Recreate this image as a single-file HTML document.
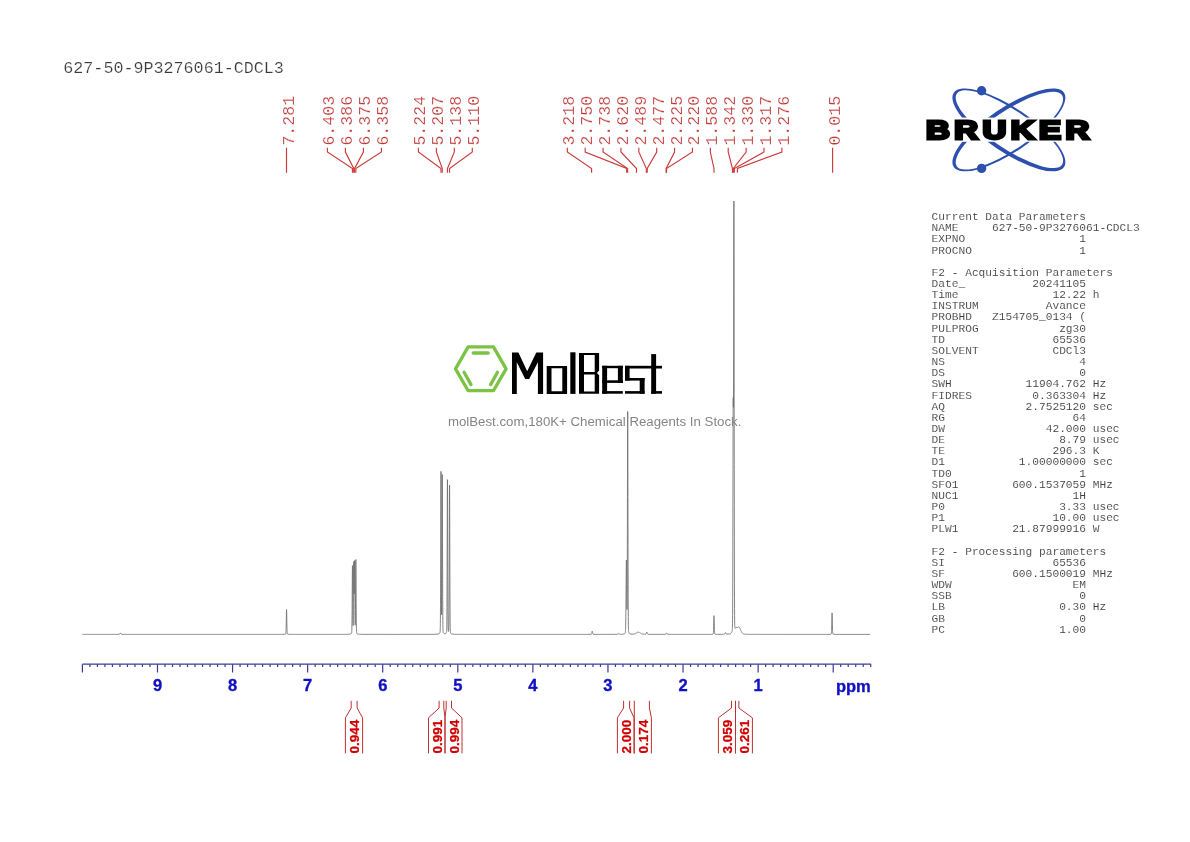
<!DOCTYPE html>
<html><head><meta charset="utf-8"><style>
html,body{margin:0;padding:0;background:#fff;width:1190px;height:842px;overflow:hidden}
svg{display:block;will-change:transform}
</style></head><body>
<svg width="1190" height="842" viewBox="0 0 1190 842">
<rect width="1190" height="842" fill="#fff"/>
<text x="63.3" y="72.8" font-family="Liberation Mono" font-size="16.72" fill="#3a3a3a" stroke="#fff" stroke-width="0.2">627-50-9P3276061-CDCL3</text>
<g font-family="Liberation Mono" font-size="16.6" fill="#c03838" stroke="#fff" stroke-width="0.2"><text transform="translate(293.50,145.60) rotate(-90)" x="0" y="0">7.281</text><text transform="translate(334.40,145.60) rotate(-90)" x="0" y="0">6.403</text><text transform="translate(352.40,145.60) rotate(-90)" x="0" y="0">6.386</text><text transform="translate(370.40,145.60) rotate(-90)" x="0" y="0">6.375</text><text transform="translate(388.40,145.60) rotate(-90)" x="0" y="0">6.358</text><text transform="translate(425.40,145.60) rotate(-90)" x="0" y="0">5.224</text><text transform="translate(443.37,145.60) rotate(-90)" x="0" y="0">5.207</text><text transform="translate(461.34,145.60) rotate(-90)" x="0" y="0">5.138</text><text transform="translate(479.31,145.60) rotate(-90)" x="0" y="0">5.110</text><text transform="translate(574.30,145.60) rotate(-90)" x="0" y="0">3.218</text><text transform="translate(592.18,145.60) rotate(-90)" x="0" y="0">2.750</text><text transform="translate(610.06,145.60) rotate(-90)" x="0" y="0">2.738</text><text transform="translate(627.94,145.60) rotate(-90)" x="0" y="0">2.620</text><text transform="translate(645.82,145.60) rotate(-90)" x="0" y="0">2.489</text><text transform="translate(663.70,145.60) rotate(-90)" x="0" y="0">2.477</text><text transform="translate(681.58,145.60) rotate(-90)" x="0" y="0">2.225</text><text transform="translate(699.46,145.60) rotate(-90)" x="0" y="0">2.220</text><text transform="translate(717.34,145.60) rotate(-90)" x="0" y="0">1.588</text><text transform="translate(735.22,145.60) rotate(-90)" x="0" y="0">1.342</text><text transform="translate(753.10,145.60) rotate(-90)" x="0" y="0">1.330</text><text transform="translate(770.98,145.60) rotate(-90)" x="0" y="0">1.317</text><text transform="translate(788.86,145.60) rotate(-90)" x="0" y="0">1.276</text><text transform="translate(839.60,145.60) rotate(-90)" x="0" y="0">0.015</text></g>
<g fill="none" stroke="#cc3a3a" stroke-width="1.15"><path d="M286.50,147.7 L286.50,172.8"/><path d="M327.40,147.7 L327.40,152 L352.46,168.5 L352.46,172.8"/><path d="M345.40,147.7 L345.40,152 L353.74,168.5 L353.74,172.8"/><path d="M363.40,147.7 L363.40,152 L354.57,168.5 L354.57,172.8"/><path d="M381.40,147.7 L381.40,152 L355.84,168.5 L355.84,172.8"/><path d="M418.40,147.7 L418.40,152 L440.98,168.5 L440.98,172.8"/><path d="M436.37,147.7 L436.37,152 L442.26,168.5 L442.26,172.8"/><path d="M454.34,147.7 L454.34,152 L447.44,168.5 L447.44,172.8"/><path d="M472.31,147.7 L472.31,152 L449.54,168.5 L449.54,172.8"/><path d="M567.30,147.7 L567.30,152 L591.59,168.5 L591.59,172.8"/><path d="M585.18,147.7 L585.18,152 L626.73,168.5 L626.73,172.8"/><path d="M603.06,147.7 L603.06,152 L627.63,168.5 L627.63,172.8"/><path d="M620.94,147.7 L620.94,152 L636.49,168.5 L636.49,172.8"/><path d="M638.82,147.7 L638.82,152 L646.33,168.5 L646.33,172.8"/><path d="M656.70,147.7 L656.70,152 L647.23,168.5 L647.23,172.8"/><path d="M674.58,147.7 L674.58,152 L666.15,168.5 L666.15,172.8"/><path d="M692.46,147.7 L692.46,152 L666.52,168.5 L666.52,172.8"/><path d="M710.34,147.7 L710.34,152 L713.97,168.5 L713.97,172.8"/><path d="M728.22,147.7 L728.22,152 L732.44,168.5 L732.44,172.8"/><path d="M746.10,147.7 L746.10,152 L733.34,168.5 L733.34,172.8"/><path d="M763.98,147.7 L763.98,152 L734.32,168.5 L734.32,172.8"/><path d="M781.86,147.7 L781.86,152 L737.40,168.5 L737.40,172.8"/><path d="M832.60,147.7 L832.60,172.8"/></g>
<path d="M82.40,634.40 83.40,634.40 84.40,634.40 85.40,634.40 86.40,634.40 87.40,634.40 88.40,634.40 89.40,634.40 90.40,634.40 91.40,634.40 92.40,634.40 93.40,634.40 94.40,634.40 95.40,634.40 96.40,634.40 97.40,634.40 98.40,634.40 99.40,634.40 100.40,634.40 101.40,634.40 102.40,634.40 103.40,634.40 104.40,634.40 105.40,634.40 106.40,634.40 107.40,634.40 108.40,634.40 109.40,634.40 110.40,634.40 111.40,634.40 112.40,634.40 113.40,634.40 114.40,634.40 115.40,634.40 116.40,634.40 116.45,634.40 116.50,634.40 116.55,634.40 116.60,634.40 116.65,634.40 116.70,634.40 116.75,634.40 116.80,634.40 116.85,634.40 116.90,634.40 116.95,634.39 117.00,634.39 117.05,634.39 117.10,634.39 117.15,634.39 117.20,634.39 117.25,634.39 117.30,634.39 117.35,634.39 117.40,634.39 117.45,634.39 117.50,634.39 117.55,634.39 117.60,634.39 117.65,634.39 117.70,634.39 117.75,634.39 117.80,634.39 117.85,634.39 117.90,634.39 117.95,634.39 118.00,634.39 118.05,634.39 118.10,634.39 118.15,634.39 118.20,634.39 118.25,634.39 118.30,634.39 118.35,634.39 118.40,634.39 118.45,634.38 118.50,634.38 118.55,634.38 118.60,634.38 118.65,634.38 118.70,634.38 118.75,634.37 118.80,634.37 118.85,634.37 118.90,634.36 118.95,634.35 119.00,634.35 119.05,634.34 119.10,634.32 119.15,634.31 119.20,634.29 119.25,634.27 119.30,634.24 119.35,634.21 119.40,634.18 119.45,634.14 119.50,634.09 119.55,634.04 119.60,633.98 119.65,633.92 119.70,633.85 119.75,633.78 119.80,633.70 119.85,633.62 119.90,633.54 119.95,633.46 120.00,633.38 120.05,633.30 120.10,633.23 120.15,633.16 120.20,633.11 120.25,633.06 120.30,633.03 120.35,633.01 120.40,633.00 120.45,633.01 120.50,633.03 120.55,633.06 120.60,633.11 120.65,633.16 120.70,633.23 120.75,633.30 120.80,633.38 120.85,633.46 120.90,633.54 120.95,633.62 121.00,633.70 121.05,633.78 121.10,633.85 121.15,633.92 121.20,633.98 121.25,634.04 121.30,634.09 121.35,634.14 121.40,634.18 121.45,634.21 121.50,634.24 121.55,634.27 121.60,634.29 121.65,634.31 121.70,634.32 121.75,634.34 121.80,634.35 121.85,634.35 121.90,634.36 121.95,634.37 122.00,634.37 122.05,634.37 122.10,634.38 122.15,634.38 122.20,634.38 122.25,634.38 122.30,634.38 122.35,634.38 122.40,634.39 122.45,634.39 122.50,634.39 122.55,634.39 122.60,634.39 122.65,634.39 122.70,634.39 122.75,634.39 122.80,634.39 122.85,634.39 122.90,634.39 122.95,634.39 123.00,634.39 123.05,634.39 123.10,634.39 123.15,634.39 123.20,634.39 123.25,634.39 123.30,634.39 123.35,634.39 123.40,634.39 123.45,634.39 123.50,634.39 123.55,634.39 123.60,634.39 123.65,634.39 123.70,634.39 123.75,634.39 123.80,634.39 123.85,634.39 123.90,634.40 123.95,634.40 124.00,634.40 124.05,634.40 124.10,634.40 124.15,634.40 124.20,634.40 124.25,634.40 124.30,634.40 124.35,634.40 124.40,634.40 124.45,634.40 124.50,634.40 124.55,634.40 124.60,634.40 124.65,634.40 124.70,634.40 124.75,634.40 124.80,634.40 124.85,634.40 124.90,634.40 124.95,634.40 125.00,634.40 125.05,634.40 125.10,634.40 125.15,634.40 125.20,634.40 125.25,634.40 125.30,634.40 125.35,634.40 125.40,634.40 125.45,634.40 126.45,634.40 127.45,634.40 128.45,634.40 129.45,634.40 130.45,634.40 131.45,634.40 132.45,634.40 133.45,634.40 134.45,634.40 135.45,634.40 136.45,634.40 137.45,634.40 138.45,634.40 139.45,634.40 140.45,634.40 141.45,634.40 142.45,634.40 143.45,634.40 144.45,634.40 145.45,634.40 146.45,634.40 147.45,634.40 148.45,634.40 149.45,634.40 150.45,634.40 151.45,634.40 152.45,634.40 153.45,634.40 154.45,634.40 155.45,634.40 156.45,634.40 157.45,634.40 158.45,634.40 159.45,634.40 160.45,634.40 161.45,634.40 162.45,634.40 163.45,634.40 164.45,634.40 165.45,634.40 166.45,634.40 167.45,634.40 168.45,634.40 169.45,634.40 170.45,634.40 171.45,634.40 172.45,634.40 173.45,634.40 174.45,634.40 175.45,634.40 176.45,634.40 177.45,634.40 178.45,634.40 179.45,634.40 180.45,634.40 181.45,634.40 182.45,634.40 183.45,634.40 184.45,634.40 185.45,634.40 186.45,634.40 187.45,634.40 188.45,634.40 189.45,634.40 190.45,634.40 191.45,634.40 192.45,634.40 193.45,634.40 194.45,634.40 195.45,634.40 196.45,634.40 197.45,634.40 198.45,634.40 199.45,634.40 200.45,634.40 201.45,634.40 202.45,634.40 203.45,634.40 204.45,634.40 205.45,634.40 206.45,634.40 207.45,634.40 208.45,634.40 209.45,634.40 210.45,634.40 211.45,634.40 212.45,634.40 213.45,634.40 214.45,634.40 215.45,634.40 216.45,634.40 217.45,634.40 218.45,634.40 219.45,634.40 220.45,634.40 221.45,634.40 222.45,634.40 223.45,634.40 224.45,634.40 225.45,634.40 226.45,634.40 227.45,634.40 228.45,634.40 229.45,634.40 230.45,634.40 231.45,634.40 232.45,634.40 233.45,634.40 234.45,634.40 235.45,634.40 236.45,634.40 237.45,634.40 238.45,634.40 239.45,634.40 240.45,634.40 241.45,634.40 242.45,634.40 243.45,634.40 244.45,634.40 245.45,634.40 246.45,634.40 247.45,634.40 248.45,634.40 249.45,634.40 250.45,634.40 251.45,634.40 252.45,634.40 253.45,634.40 254.45,634.40 255.45,634.40 256.45,634.40 257.45,634.40 258.45,634.40 259.45,634.40 260.45,634.40 261.45,634.40 262.45,634.40 263.45,634.40 264.45,634.40 265.45,634.40 266.45,634.40 267.45,634.40 268.45,634.40 269.45,634.40 270.45,634.40 271.45,634.40 272.45,634.40 273.45,634.40 274.45,634.40 275.45,634.40 276.45,634.40 277.45,634.40 278.45,634.40 279.45,634.39 280.45,634.39 281.45,634.39 282.45,634.38 282.50,634.38 282.55,634.38 282.60,634.38 282.65,634.38 282.70,634.38 282.75,634.38 282.80,634.38 282.85,634.38 282.90,634.38 282.95,634.38 283.00,634.38 283.05,634.38 283.10,634.38 283.15,634.38 283.20,634.38 283.25,634.37 283.30,634.37 283.35,634.37 283.40,634.37 283.45,634.37 283.50,634.37 283.55,634.37 283.60,634.37 283.65,634.37 283.70,634.37 283.75,634.36 283.80,634.36 283.85,634.36 283.90,634.36 283.95,634.36 284.00,634.36 284.05,634.36 284.10,634.35 284.15,634.35 284.20,634.35 284.25,634.35 284.30,634.35 284.35,634.34 284.40,634.34 284.45,634.34 284.50,634.34 284.55,634.33 284.60,634.33 284.65,634.33 284.70,634.32 284.75,634.32 284.80,634.31 284.85,634.31 284.90,634.30 284.95,634.30 285.00,634.29 285.05,634.28 285.10,634.28 285.15,634.27 285.20,634.26 285.25,634.25 285.30,634.23 285.35,634.22 285.40,634.21 285.45,634.19 285.50,634.17 285.55,634.14 285.60,634.10 285.65,634.05 285.70,633.97 285.75,633.85 285.80,633.67 285.85,633.38 285.90,632.95 285.95,632.32 286.00,631.43 286.05,630.21 286.10,628.61 286.15,626.61 286.20,624.23 286.25,621.53 286.30,618.66 286.35,615.81 286.40,613.22 286.45,611.16 286.50,609.86 286.55,609.51 286.60,610.16 286.65,611.71 286.70,613.96 286.75,616.65 286.80,619.53 286.85,622.36 286.90,624.98 286.95,627.25 287.00,629.13 287.05,630.61 287.10,631.73 287.15,632.54 287.20,633.10 287.25,633.48 287.30,633.73 287.35,633.89 287.40,634.00 287.45,634.07 287.50,634.11 287.55,634.15 287.60,634.17 287.65,634.19 287.70,634.21 287.75,634.22 287.80,634.24 287.85,634.25 287.90,634.26 287.95,634.27 288.00,634.28 288.05,634.29 288.10,634.29 288.15,634.30 288.20,634.30 288.25,634.31 288.30,634.31 288.35,634.32 288.40,634.32 288.45,634.33 288.50,634.33 288.55,634.33 288.60,634.34 288.65,634.34 288.70,634.34 288.75,634.34 288.80,634.35 288.85,634.35 288.90,634.35 288.95,634.35 289.00,634.36 289.05,634.36 289.10,634.36 289.15,634.36 289.20,634.36 289.25,634.36 289.30,634.36 289.35,634.37 289.40,634.37 289.45,634.37 289.50,634.37 289.55,634.37 289.60,634.37 289.65,634.37 289.70,634.37 289.75,634.37 289.80,634.37 289.85,634.37 289.90,634.38 289.95,634.38 290.00,634.38 290.05,634.38 290.10,634.38 290.15,634.38 290.20,634.38 290.25,634.38 290.30,634.38 290.35,634.38 290.40,634.38 290.45,634.38 290.50,634.38 290.55,634.38 290.60,634.38 290.65,634.38 290.70,634.38 290.75,634.38 290.80,634.38 290.85,634.38 290.90,634.38 290.95,634.39 291.00,634.39 291.05,634.39 291.10,634.39 291.15,634.39 291.20,634.39 291.25,634.39 291.30,634.39 291.35,634.39 291.40,634.39 291.45,634.39 291.50,634.39 291.55,634.39 292.55,634.39 293.55,634.39 294.55,634.39 295.55,634.40 296.55,634.40 297.55,634.40 298.55,634.40 299.55,634.40 300.55,634.40 301.55,634.40 302.55,634.40 303.55,634.40 304.55,634.40 305.55,634.40 306.55,634.40 307.55,634.40 308.55,634.40 309.55,634.40 310.55,634.40 311.55,634.40 312.55,634.40 313.55,634.40 314.55,634.40 315.55,634.40 316.55,634.40 317.55,634.40 318.55,634.40 319.55,634.40 320.55,634.40 321.55,634.40 322.55,634.40 323.55,634.40 324.55,634.40 325.55,634.40 326.55,634.40 327.55,634.39 328.55,634.39 329.55,634.39 330.55,634.39 331.55,634.39 332.55,634.39 333.55,634.39 334.55,634.39 335.55,634.39 336.55,634.39 337.55,634.39 338.55,634.39 339.55,634.38 340.55,634.38 341.55,634.38 342.55,634.38 343.55,634.37 344.55,634.36 345.55,634.36 346.55,634.34 347.55,634.32 347.60,634.32 347.65,634.32 347.70,634.32 347.75,634.32 347.80,634.31 347.85,634.31 347.90,634.31 347.95,634.31 348.00,634.31 348.05,634.31 348.10,634.30 348.15,634.30 348.20,634.30 348.25,634.30 348.30,634.30 348.35,634.30 348.40,634.29 348.45,634.29 348.50,634.29 348.55,634.29 348.60,634.28 348.65,634.28 348.70,634.28 348.75,634.28 348.80,634.27 348.85,634.27 348.90,634.27 348.95,634.27 349.00,634.26 349.05,634.26 349.10,634.26 349.15,634.25 349.20,634.25 349.25,634.24 349.30,634.24 349.35,634.24 349.40,634.23 349.45,634.23 349.50,634.22 349.55,634.22 349.60,634.21 349.65,634.21 349.70,634.20 349.75,634.20 349.80,634.19 349.85,634.19 349.90,634.18 349.95,634.17 350.00,634.16 350.05,634.16 350.10,634.15 350.15,634.14 350.20,634.13 350.25,634.12 350.30,634.11 350.35,634.10 350.40,634.09 350.45,634.08 350.50,634.06 350.55,634.05 350.60,634.04 350.65,634.02 350.70,634.00 350.75,633.99 350.80,633.97 350.85,633.95 350.90,633.92 350.95,633.90 351.00,633.87 351.05,633.84 351.10,633.81 351.15,633.78 351.20,633.74 351.25,633.70 351.30,633.65 351.35,633.59 351.40,633.53 351.45,633.45 351.50,633.35 351.55,633.22 351.60,633.03 351.65,632.74 351.70,632.30 351.75,631.63 351.80,630.62 351.85,629.12 351.90,626.97 351.95,623.99 352.00,620.02 352.05,614.97 352.10,608.83 352.15,601.74 352.20,593.99 352.25,586.06 352.30,578.56 352.35,572.20 352.40,567.69 352.45,565.60 352.50,566.23 352.55,569.47 352.60,574.88 352.65,581.79 352.70,589.48 352.75,597.27 352.80,604.60 352.85,611.06 352.90,616.41 352.95,620.53 353.00,623.41 353.05,625.09 353.10,625.61 353.15,624.96 353.20,623.14 353.25,620.09 353.30,615.76 353.35,610.17 353.40,603.41 353.45,595.73 353.50,587.56 353.55,579.45 353.60,572.10 353.65,566.24 353.70,562.57 353.75,561.50 353.80,563.11 353.85,567.02 353.90,572.52 353.95,578.73 354.00,584.74 354.05,589.71 354.10,592.98 354.15,594.13 354.20,593.00 354.25,589.73 354.30,584.71 354.35,578.62 354.40,572.25 354.45,566.55 354.50,562.40 354.55,560.54 354.60,561.38 354.65,564.90 354.70,570.66 354.75,578.01 354.80,586.20 354.85,594.50 354.90,602.33 354.95,609.26 355.00,615.02 355.05,619.49 355.10,622.65 355.15,624.54 355.20,625.20 355.25,624.65 355.30,622.86 355.35,619.79 355.40,615.38 355.45,609.65 355.50,602.70 355.55,594.78 355.60,586.32 355.65,577.91 355.70,570.29 355.75,564.23 355.80,560.48 355.85,559.55 355.90,561.58 355.95,566.29 356.00,573.07 356.05,581.16 356.10,589.77 356.15,598.23 356.20,606.02 356.25,612.80 356.30,618.39 356.35,622.80 356.40,626.12 356.45,628.53 356.50,630.21 356.55,631.35 356.60,632.10 356.65,632.59 356.70,632.91 356.75,633.13 356.80,633.28 356.85,633.39 356.90,633.47 356.95,633.54 357.00,633.60 357.05,633.65 357.10,633.70 357.15,633.74 357.20,633.78 357.25,633.81 357.30,633.84 357.35,633.87 357.40,633.90 357.45,633.92 357.50,633.94 357.55,633.97 357.60,633.98 357.65,634.00 357.70,634.02 357.75,634.03 357.80,634.05 357.85,634.06 357.90,634.08 357.95,634.09 358.00,634.10 358.05,634.11 358.10,634.12 358.15,634.13 358.20,634.14 358.25,634.15 358.30,634.15 358.35,634.16 358.40,634.17 358.45,634.18 358.50,634.18 358.55,634.19 358.60,634.20 358.65,634.20 358.70,634.21 358.75,634.21 358.80,634.22 358.85,634.22 358.90,634.23 358.95,634.23 359.00,634.24 359.05,634.24 359.10,634.24 359.15,634.25 359.20,634.25 359.25,634.25 359.30,634.26 359.35,634.26 359.40,634.26 359.45,634.27 359.50,634.27 359.55,634.27 359.60,634.28 359.65,634.28 359.70,634.28 359.75,634.28 359.80,634.29 359.85,634.29 359.90,634.29 359.95,634.29 360.00,634.29 360.05,634.30 360.10,634.30 360.15,634.30 360.20,634.30 360.25,634.30 360.30,634.31 360.35,634.31 360.40,634.31 360.45,634.31 360.50,634.31 360.55,634.31 360.60,634.31 360.65,634.32 360.70,634.32 360.75,634.32 360.80,634.32 360.85,634.32 361.85,634.34 362.85,634.36 363.85,634.36 364.85,634.37 365.85,634.38 366.85,634.38 367.85,634.38 368.85,634.38 369.85,634.39 370.85,634.39 371.85,634.39 372.85,634.39 373.85,634.39 374.85,634.39 375.85,634.39 376.85,634.39 377.85,634.39 378.85,634.39 379.85,634.39 380.85,634.39 381.85,634.39 382.85,634.39 383.85,634.39 384.85,634.39 385.85,634.39 386.85,634.39 387.85,634.39 388.85,634.40 389.85,634.40 390.85,634.40 391.85,634.40 392.85,634.40 393.85,634.40 394.85,634.40 395.85,634.40 396.85,634.40 397.85,634.40 398.85,634.39 399.85,634.39 400.85,634.39 401.85,634.39 402.85,634.39 403.85,634.39 404.85,634.39 405.85,634.39 406.85,634.39 407.85,634.39 408.85,634.39 409.85,634.39 410.85,634.39 411.85,634.39 412.85,634.39 413.85,634.39 414.85,634.39 415.85,634.39 416.85,634.39 417.85,634.39 418.85,634.39 419.85,634.39 420.85,634.39 421.85,634.39 422.85,634.38 423.85,634.38 424.85,634.38 425.85,634.38 426.85,634.38 427.85,634.37 428.85,634.37 429.85,634.36 430.85,634.36 431.85,634.35 432.85,634.34 433.85,634.33 434.85,634.30 435.85,634.27 436.85,634.21 436.90,634.21 436.95,634.21 437.00,634.20 437.05,634.20 437.10,634.19 437.15,634.19 437.20,634.18 437.25,634.18 437.30,634.17 437.35,634.17 437.40,634.16 437.45,634.16 437.50,634.15 437.55,634.15 437.60,634.14 437.65,634.13 437.70,634.13 437.75,634.12 437.80,634.11 437.85,634.10 437.90,634.10 437.95,634.09 438.00,634.08 438.05,634.07 438.10,634.06 438.15,634.05 438.20,634.04 438.25,634.03 438.30,634.02 438.35,634.00 438.40,633.99 438.45,633.98 438.50,633.96 438.55,633.95 438.60,633.93 438.65,633.92 438.70,633.90 438.75,633.88 438.80,633.86 438.85,633.84 438.90,633.82 438.95,633.79 439.00,633.76 439.05,633.74 439.10,633.71 439.15,633.68 439.20,633.64 439.25,633.60 439.30,633.56 439.35,633.52 439.40,633.47 439.45,633.42 439.50,633.37 439.55,633.31 439.60,633.24 439.65,633.17 439.70,633.08 439.75,632.99 439.80,632.89 439.85,632.78 439.90,632.64 439.95,632.48 440.00,632.27 440.05,632.00 440.10,631.61 440.15,631.04 440.20,630.17 440.25,628.83 440.30,626.78 440.35,623.72 440.40,619.26 440.45,612.99 440.50,604.51 440.55,593.52 440.60,579.90 440.65,563.85 440.70,545.92 440.75,527.08 440.80,508.66 440.85,492.30 440.90,479.69 440.95,472.39 441.00,471.39 441.05,476.83 441.10,487.91 441.15,503.22 441.20,521.04 441.25,539.70 441.30,557.75 441.35,574.07 441.40,587.94 441.45,598.98 441.50,607.09 441.55,612.34 441.60,614.83 441.65,614.65 441.70,611.81 441.75,606.22 441.80,597.78 441.85,586.47 441.90,572.42 441.95,556.08 442.00,538.23 442.05,520.02 442.10,502.93 442.15,488.61 442.20,478.73 442.25,474.58 442.30,476.76 442.35,484.98 442.40,498.13 442.45,514.65 442.50,532.86 442.55,551.20 442.60,568.45 442.65,583.73 442.70,596.57 442.75,606.84 442.80,614.70 442.85,620.46 442.90,624.53 442.95,627.31 443.00,629.15 443.05,630.36 443.10,631.14 443.15,631.66 443.20,632.01 443.25,632.26 443.30,632.45 443.35,632.60 443.40,632.72 443.45,632.83 443.50,632.92 443.55,633.01 443.60,633.08 443.65,633.15 443.70,633.21 443.75,633.26 443.80,633.31 443.85,633.36 443.90,633.40 443.95,633.43 444.00,633.47 444.05,633.50 444.10,633.53 444.15,633.55 444.20,633.57 444.25,633.59 444.30,633.61 444.35,633.63 444.40,633.64 444.45,633.66 444.50,633.67 444.55,633.68 444.60,633.69 444.65,633.70 444.70,633.70 444.75,633.71 444.80,633.71 444.85,633.71 444.90,633.71 444.95,633.71 445.00,633.71 445.05,633.71 445.10,633.71 445.15,633.70 445.20,633.69 445.25,633.69 445.30,633.68 445.35,633.66 445.40,633.65 445.45,633.64 445.50,633.62 445.55,633.60 445.60,633.58 445.65,633.56 445.70,633.53 445.75,633.50 445.80,633.47 445.85,633.44 445.90,633.40 445.95,633.36 446.00,633.31 446.05,633.26 446.10,633.20 446.15,633.13 446.20,633.06 446.25,632.97 446.30,632.87 446.35,632.76 446.40,632.62 446.45,632.44 446.50,632.21 446.55,631.87 446.60,631.37 446.65,630.60 446.70,629.41 446.75,627.59 446.80,624.85 446.85,620.83 446.90,615.15 446.95,607.41 447.00,597.32 447.05,584.73 447.10,569.78 447.15,552.95 447.20,535.11 447.25,517.49 447.30,501.59 447.35,489.06 447.40,481.40 447.45,479.65 447.50,484.06 447.55,494.01 447.60,508.20 447.65,525.02 447.70,542.88 447.75,560.37 447.80,576.42 447.85,590.33 447.90,601.78 447.95,610.76 448.00,617.50 448.05,622.36 448.10,625.71 448.15,627.95 448.20,629.40 448.25,630.31 448.30,630.88 448.35,631.21 448.40,631.40 448.45,631.50 448.50,631.53 448.55,631.49 448.60,631.37 448.65,631.15 448.70,630.75 448.75,630.10 448.80,629.05 448.85,627.39 448.90,624.85 448.95,621.09 449.00,615.73 449.05,608.41 449.10,598.82 449.15,586.83 449.20,572.54 449.25,556.41 449.30,539.26 449.35,522.25 449.40,506.85 449.45,494.61 449.50,487.02 449.55,485.10 449.60,489.13 449.65,498.54 449.70,512.11 449.75,528.29 449.80,545.54 449.85,562.49 449.90,578.08 449.95,591.64 450.00,602.83 450.05,611.64 450.10,618.28 450.15,623.08 450.20,626.43 450.25,628.69 450.30,630.18 450.35,631.15 450.40,631.77 450.45,632.19 450.50,632.47 450.55,632.68 450.60,632.84 450.65,632.97 450.70,633.07 450.75,633.17 450.80,633.25 450.85,633.32 450.90,633.39 450.95,633.45 451.00,633.50 451.05,633.55 451.10,633.60 451.15,633.64 451.20,633.68 451.25,633.71 451.30,633.75 451.35,633.78 451.40,633.80 451.45,633.83 451.50,633.85 451.55,633.88 451.60,633.90 451.65,633.92 451.70,633.93 451.75,633.95 451.80,633.97 451.85,633.98 451.90,634.00 451.95,634.01 452.00,634.02 452.05,634.04 452.10,634.05 452.15,634.06 452.20,634.07 452.25,634.08 452.30,634.09 452.35,634.10 452.40,634.11 452.45,634.12 452.50,634.12 452.55,634.13 452.60,634.14 452.65,634.14 452.70,634.15 452.75,634.16 452.80,634.16 452.85,634.17 452.90,634.17 452.95,634.18 453.00,634.19 453.05,634.19 453.10,634.19 453.15,634.20 453.20,634.20 453.25,634.21 453.30,634.21 453.35,634.22 453.40,634.22 453.45,634.22 453.50,634.23 453.55,634.23 453.60,634.23 453.65,634.24 453.70,634.24 453.75,634.24 453.80,634.25 453.85,634.25 453.90,634.25 453.95,634.25 454.00,634.26 454.05,634.26 454.10,634.26 454.15,634.26 454.20,634.27 454.25,634.27 454.30,634.27 454.35,634.27 454.40,634.28 454.45,634.28 454.50,634.28 454.55,634.28 455.55,634.31 456.55,634.33 457.55,634.34 458.55,634.35 459.55,634.36 460.55,634.37 461.55,634.37 462.55,634.37 463.55,634.38 464.55,634.38 465.55,634.38 466.55,634.38 467.55,634.39 468.55,634.39 469.55,634.39 470.55,634.39 471.55,634.39 472.55,634.39 473.55,634.39 474.55,634.39 475.55,634.39 476.55,634.39 477.55,634.39 478.55,634.39 479.55,634.39 480.55,634.39 481.55,634.39 482.55,634.39 483.55,634.39 484.55,634.39 485.55,634.40 486.55,634.40 487.55,634.40 488.55,634.40 489.55,634.40 490.55,634.40 491.55,634.40 492.55,634.40 493.55,634.40 494.55,634.40 495.55,634.40 496.55,634.40 497.55,634.40 498.55,634.40 499.55,634.40 500.55,634.40 501.55,634.40 502.55,634.40 503.55,634.40 504.55,634.40 505.55,634.40 506.55,634.40 507.55,634.40 508.55,634.40 509.55,634.40 510.55,634.40 511.55,634.40 512.55,634.40 513.55,634.40 514.55,634.40 515.55,634.40 516.55,634.40 517.55,634.40 518.55,634.40 519.55,634.40 520.55,634.40 521.55,634.40 522.55,634.40 523.55,634.40 524.55,634.40 525.55,634.40 526.55,634.40 527.55,634.40 528.55,634.40 529.55,634.40 530.55,634.40 531.55,634.40 532.55,634.40 533.55,634.40 534.55,634.40 535.55,634.40 536.55,634.40 537.55,634.40 538.55,634.40 539.55,634.40 540.55,634.40 541.55,634.40 542.55,634.40 543.55,634.40 544.55,634.40 545.55,634.40 546.55,634.40 547.55,634.40 548.55,634.40 549.55,634.40 550.55,634.40 551.55,634.40 552.55,634.40 553.55,634.40 554.55,634.40 555.55,634.40 556.55,634.40 557.55,634.40 558.55,634.40 559.55,634.40 560.55,634.40 561.55,634.40 562.55,634.40 563.55,634.40 564.55,634.40 565.55,634.40 566.55,634.40 567.55,634.40 568.55,634.40 569.55,634.40 570.55,634.40 571.55,634.40 572.55,634.40 573.55,634.40 574.55,634.40 575.55,634.40 576.55,634.40 577.55,634.40 578.55,634.40 579.55,634.40 580.55,634.40 581.55,634.40 582.55,634.40 583.55,634.40 584.55,634.40 585.55,634.39 586.55,634.39 587.55,634.39 587.60,634.39 587.65,634.39 587.70,634.39 587.75,634.39 587.80,634.39 587.85,634.39 587.90,634.39 587.95,634.39 588.00,634.39 588.05,634.39 588.10,634.39 588.15,634.39 588.20,634.39 588.25,634.39 588.30,634.39 588.35,634.39 588.40,634.39 588.45,634.39 588.50,634.39 588.55,634.39 588.60,634.39 588.65,634.39 588.70,634.39 588.75,634.39 588.80,634.39 588.85,634.39 588.90,634.39 588.95,634.39 589.00,634.39 589.05,634.39 589.10,634.39 589.15,634.39 589.20,634.39 589.25,634.39 589.30,634.39 589.35,634.39 589.40,634.39 589.45,634.39 589.50,634.39 589.55,634.39 589.60,634.39 589.65,634.39 589.70,634.39 589.75,634.39 589.80,634.39 589.85,634.38 589.90,634.38 589.95,634.38 590.00,634.38 590.05,634.38 590.10,634.38 590.15,634.38 590.20,634.38 590.25,634.38 590.30,634.38 590.35,634.38 590.40,634.38 590.45,634.38 590.50,634.38 590.55,634.37 590.60,634.37 590.65,634.37 590.70,634.37 590.75,634.37 590.80,634.37 590.85,634.36 590.90,634.36 590.95,634.36 591.00,634.35 591.05,634.34 591.10,634.34 591.15,634.32 591.20,634.31 591.25,634.28 591.30,634.25 591.35,634.20 591.40,634.14 591.45,634.06 591.50,633.96 591.55,633.84 591.60,633.69 591.65,633.50 591.70,633.29 591.75,633.06 591.80,632.80 591.85,632.52 591.90,632.25 591.95,631.97 592.00,631.72 592.05,631.51 592.10,631.34 592.15,631.24 592.20,631.20 592.25,631.24 592.30,631.34 592.35,631.51 592.40,631.72 592.45,631.97 592.50,632.25 592.55,632.52 592.60,632.80 592.65,633.06 592.70,633.29 592.75,633.50 592.80,633.69 592.85,633.84 592.90,633.96 592.95,634.06 593.00,634.14 593.05,634.20 593.10,634.25 593.15,634.28 593.20,634.31 593.25,634.32 593.30,634.34 593.35,634.34 593.40,634.35 593.45,634.36 593.50,634.36 593.55,634.36 593.60,634.37 593.65,634.37 593.70,634.37 593.75,634.37 593.80,634.37 593.85,634.37 593.90,634.37 593.95,634.38 594.00,634.38 594.05,634.38 594.10,634.38 594.15,634.38 594.20,634.38 594.25,634.38 594.30,634.38 594.35,634.38 594.40,634.38 594.45,634.38 594.50,634.38 594.55,634.38 594.60,634.38 594.65,634.38 594.70,634.38 594.75,634.39 594.80,634.39 594.85,634.39 594.90,634.39 594.95,634.39 595.00,634.39 595.05,634.39 595.10,634.39 595.15,634.39 595.20,634.39 595.25,634.39 595.30,634.39 595.35,634.39 595.40,634.39 595.45,634.39 595.50,634.39 595.55,634.39 595.60,634.39 595.65,634.39 595.70,634.39 595.75,634.39 595.80,634.39 595.85,634.39 595.90,634.39 595.95,634.39 596.00,634.39 596.05,634.39 596.10,634.39 596.15,634.39 596.20,634.39 596.25,634.39 596.30,634.39 596.35,634.39 596.40,634.39 596.45,634.39 596.50,634.39 596.55,634.39 596.60,634.39 596.65,634.39 596.70,634.39 596.75,634.39 596.80,634.39 596.85,634.39 596.90,634.39 596.95,634.39 597.00,634.39 597.05,634.39 597.10,634.39 597.15,634.39 597.20,634.39 597.25,634.39 598.25,634.39 599.25,634.39 600.25,634.39 601.25,634.39 602.25,634.39 603.25,634.39 604.25,634.39 605.25,634.39 606.25,634.39 607.25,634.39 608.25,634.39 609.25,634.38 610.25,634.38 611.25,634.38 612.25,634.38 613.25,634.38 614.25,634.37 614.30,634.37 614.35,634.37 614.40,634.37 614.45,634.37 614.50,634.37 614.55,634.37 614.60,634.37 614.65,634.37 614.70,634.37 614.75,634.37 614.80,634.37 614.85,634.37 614.90,634.37 614.95,634.37 615.00,634.37 615.05,634.37 615.10,634.37 615.15,634.37 615.20,634.37 615.25,634.37 615.30,634.37 615.35,634.37 615.40,634.37 615.45,634.37 615.50,634.36 615.55,634.36 615.60,634.36 615.65,634.36 615.70,634.36 615.75,634.36 615.80,634.36 615.85,634.36 615.90,634.36 615.95,634.36 616.00,634.36 616.05,634.36 616.10,634.36 616.15,634.36 616.20,634.36 616.25,634.36 616.30,634.36 616.35,634.36 616.40,634.36 616.45,634.36 616.50,634.36 616.55,634.36 616.60,634.35 616.65,634.35 616.70,634.35 616.75,634.35 616.80,634.35 616.85,634.35 616.90,634.35 616.95,634.35 617.00,634.35 617.05,634.35 617.10,634.35 617.15,634.34 617.20,634.34 617.25,634.34 617.30,634.34 617.35,634.33 617.40,634.33 617.45,634.33 617.50,634.32 617.55,634.31 617.60,634.30 617.65,634.29 617.70,634.27 617.75,634.25 617.80,634.23 617.85,634.20 617.90,634.16 617.95,634.12 618.00,634.07 618.05,634.02 618.10,633.96 618.15,633.90 618.20,633.83 618.25,633.76 618.30,633.68 618.35,633.61 618.40,633.54 618.45,633.47 618.50,633.42 618.55,633.37 618.60,633.33 618.65,633.31 618.70,633.30 618.75,633.31 618.80,633.33 618.85,633.36 618.90,633.41 618.95,633.47 619.00,633.53 619.05,633.60 619.10,633.67 619.15,633.74 619.20,633.81 619.25,633.88 619.30,633.94 619.35,634.00 619.40,634.05 619.45,634.10 619.50,634.14 619.55,634.17 619.60,634.20 619.65,634.22 619.70,634.24 619.75,634.26 619.80,634.27 619.85,634.28 619.90,634.29 619.95,634.29 620.00,634.29 620.05,634.30 620.10,634.30 620.15,634.30 620.20,634.30 620.25,634.30 620.30,634.30 620.35,634.30 620.40,634.30 620.45,634.30 620.50,634.30 620.55,634.30 620.60,634.30 620.65,634.30 620.70,634.29 620.75,634.29 620.80,634.29 620.85,634.29 620.90,634.29 620.95,634.29 621.00,634.29 621.05,634.29 621.10,634.28 621.15,634.28 621.20,634.28 621.25,634.28 621.30,634.28 621.35,634.27 621.40,634.27 621.45,634.27 621.50,634.27 621.55,634.27 621.60,634.26 621.65,634.26 621.70,634.26 621.75,634.26 621.80,634.26 621.85,634.25 621.90,634.25 621.95,634.25 622.00,634.24 622.05,634.24 622.10,634.24 622.15,634.24 622.20,634.23 622.25,634.23 622.30,634.23 622.35,634.22 622.40,634.22 622.45,634.21 622.50,634.21 622.55,634.21 622.60,634.20 622.65,634.20 622.70,634.19 622.75,634.19 622.80,634.18 622.85,634.18 622.90,634.17 622.95,634.17 623.00,634.16 623.05,634.16 623.10,634.15 623.15,634.14 623.20,634.14 623.25,634.13 623.30,634.12 623.35,634.12 623.40,634.11 623.45,634.10 623.50,634.09 623.55,634.08 623.60,634.07 623.65,634.06 623.70,634.05 623.75,634.04 623.80,634.03 623.85,634.02 623.90,634.01 623.95,633.99 624.00,633.98 624.05,633.96 624.10,633.95 624.15,633.93 624.20,633.91 624.25,633.90 624.30,633.88 624.35,633.86 624.40,633.83 624.45,633.81 624.50,633.79 624.55,633.76 624.60,633.73 624.65,633.70 624.70,633.67 624.75,633.63 624.80,633.59 624.85,633.55 624.90,633.50 624.95,633.45 625.00,633.39 625.05,633.32 625.10,633.24 625.15,633.14 625.20,633.01 625.25,632.84 625.30,632.62 625.35,632.31 625.40,631.89 625.45,631.31 625.50,630.53 625.55,629.48 625.60,628.09 625.65,626.27 625.70,623.95 625.75,621.06 625.80,617.53 625.85,613.34 625.90,608.49 625.95,603.03 626.00,597.06 626.05,590.76 626.10,584.35 626.15,578.09 626.20,572.30 626.25,567.30 626.30,563.42 626.35,560.92 626.40,560.00 626.45,560.72 626.50,563.02 626.55,566.69 626.60,571.46 626.65,577.00 626.70,582.97 626.75,589.01 626.80,594.82 626.85,600.08 626.90,604.51 626.95,607.78 627.00,609.55 627.05,609.44 627.10,606.99 627.15,601.69 627.20,593.06 627.25,580.70 627.30,564.43 627.35,544.41 627.40,521.29 627.45,496.24 627.50,470.95 627.55,447.57 627.60,428.45 627.65,415.86 627.70,411.50 627.75,416.02 627.80,428.78 627.85,448.10 627.90,471.73 627.95,497.34 628.00,522.83 628.05,546.53 628.10,567.33 628.15,584.66 628.20,598.42 628.25,608.86 628.30,616.47 628.35,621.80 628.40,625.42 628.45,627.82 628.50,629.38 628.55,630.39 628.60,631.05 628.65,631.51 628.70,631.84 628.75,632.08 628.80,632.28 628.85,632.45 628.90,632.59 628.95,632.72 629.00,632.83 629.05,632.93 629.10,633.02 629.15,633.10 629.20,633.18 629.25,633.25 629.30,633.31 629.35,633.37 629.40,633.42 629.45,633.47 629.50,633.51 629.55,633.56 629.60,633.60 629.65,633.63 629.70,633.66 629.75,633.70 629.80,633.72 629.85,633.75 629.90,633.78 629.95,633.80 630.00,633.82 630.05,633.84 630.10,633.86 630.15,633.88 630.20,633.90 630.25,633.92 630.30,633.93 630.35,633.95 630.40,633.96 630.45,633.97 630.50,633.99 630.55,634.00 630.60,634.01 630.65,634.02 630.70,634.03 630.75,634.04 630.80,634.05 630.85,634.06 630.90,634.07 630.95,634.08 631.00,634.08 631.05,634.09 631.10,634.10 631.15,634.10 631.20,634.11 631.25,634.11 631.30,634.12 631.35,634.13 631.40,634.13 631.45,634.14 631.50,634.14 631.55,634.14 631.60,634.15 631.65,634.15 631.70,634.15 631.75,634.16 631.80,634.16 631.85,634.16 631.90,634.17 631.95,634.17 632.00,634.17 632.05,634.17 632.10,634.17 632.15,634.17 632.20,634.18 632.25,634.18 632.30,634.18 632.35,634.18 632.40,634.18 632.45,634.18 632.50,634.18 632.55,634.18 632.60,634.18 632.65,634.17 632.70,634.17 632.75,634.17 633.75,634.08 633.80,634.07 633.85,634.06 633.90,634.05 633.95,634.04 634.00,634.03 634.05,634.02 634.10,634.00 634.15,633.99 634.20,633.98 634.25,633.97 634.30,633.95 634.35,633.94 634.40,633.93 634.45,633.91 634.50,633.90 634.55,633.88 634.60,633.86 634.65,633.85 634.70,633.83 634.75,633.81 634.80,633.79 634.85,633.77 634.90,633.75 634.95,633.73 635.00,633.71 635.05,633.69 635.10,633.67 635.15,633.65 635.20,633.63 635.25,633.60 635.30,633.58 635.35,633.56 635.40,633.53 635.45,633.51 635.50,633.48 635.55,633.45 635.60,633.43 635.65,633.40 635.70,633.37 635.75,633.35 635.80,633.32 635.85,633.29 635.90,633.26 635.95,633.23 636.00,633.21 636.05,633.18 636.10,633.15 636.15,633.12 636.20,633.09 636.25,633.06 636.30,633.03 636.35,633.00 636.40,632.97 636.45,632.94 636.50,632.91 636.55,632.88 636.60,632.85 636.65,632.82 636.70,632.79 636.75,632.76 636.80,632.74 636.85,632.71 636.90,632.68 636.95,632.65 637.00,632.63 637.05,632.60 637.10,632.57 637.15,632.55 637.20,632.52 637.25,632.50 637.30,632.47 637.35,632.45 637.40,632.43 637.45,632.41 637.50,632.39 637.55,632.37 637.60,632.35 637.65,632.33 637.70,632.32 637.75,632.30 637.80,632.29 637.85,632.27 637.90,632.26 637.95,632.25 638.00,632.24 638.05,632.23 638.10,632.22 638.15,632.21 638.20,632.21 638.25,632.20 638.30,632.20 638.35,632.20 638.40,632.20 638.45,632.20 638.50,632.20 638.55,632.21 638.60,632.21 638.65,632.22 638.70,632.22 638.75,632.23 638.80,632.24 638.85,632.25 638.90,632.26 638.95,632.28 639.00,632.29 639.05,632.31 639.10,632.32 639.15,632.34 639.20,632.36 639.25,632.38 639.30,632.40 639.35,632.42 639.40,632.44 639.45,632.46 639.50,632.49 639.55,632.51 639.60,632.54 639.65,632.56 639.70,632.59 639.75,632.61 639.80,632.64 639.85,632.67 639.90,632.70 639.95,632.72 640.00,632.75 640.05,632.78 640.10,632.81 640.15,632.84 640.20,632.87 640.25,632.90 640.30,632.93 640.35,632.96 640.40,632.99 640.45,633.02 640.50,633.05 640.55,633.08 640.60,633.11 640.65,633.14 640.70,633.17 640.75,633.20 640.80,633.23 640.85,633.26 640.90,633.29 640.95,633.32 641.00,633.35 641.05,633.38 641.10,633.41 641.15,633.43 641.20,633.46 641.25,633.49 641.30,633.52 641.35,633.54 641.40,633.57 641.45,633.59 641.50,633.62 641.55,633.64 641.60,633.67 641.65,633.69 641.70,633.71 641.75,633.74 641.80,633.76 641.85,633.78 641.90,633.80 641.95,633.82 642.00,633.84 642.05,633.86 642.10,633.88 642.15,633.90 642.20,633.91 642.25,633.93 642.30,633.95 642.35,633.97 642.40,633.98 642.45,634.00 642.50,634.01 642.55,634.03 642.60,634.04 642.65,634.05 642.70,634.07 642.75,634.08 642.80,634.09 642.85,634.10 642.90,634.11 642.95,634.13 643.00,634.14 643.05,634.15 643.10,634.16 643.15,634.17 643.20,634.17 643.25,634.18 643.30,634.19 643.35,634.20 643.40,634.21 643.45,634.21 643.50,634.22 643.55,634.23 643.60,634.23 643.65,634.24 643.70,634.25 643.75,634.25 643.80,634.26 643.85,634.26 643.90,634.27 643.95,634.27 644.00,634.27 644.05,634.28 644.10,634.28 644.15,634.29 644.20,634.29 644.25,634.29 644.30,634.29 644.35,634.30 644.40,634.30 644.45,634.30 644.50,634.30 644.55,634.31 644.60,634.31 644.65,634.31 644.70,634.31 644.75,634.31 644.80,634.31 644.85,634.32 644.90,634.32 644.95,634.32 645.00,634.32 645.05,634.32 645.10,634.32 645.15,634.32 645.20,634.32 645.25,634.32 645.30,634.31 645.35,634.31 645.40,634.31 645.45,634.30 645.50,634.30 645.55,634.29 645.60,634.27 645.65,634.26 645.70,634.23 645.75,634.20 645.80,634.17 645.85,634.12 645.90,634.07 645.95,634.00 646.00,633.93 646.05,633.83 646.10,633.73 646.15,633.61 646.20,633.48 646.25,633.33 646.30,633.18 646.35,633.02 646.40,632.85 646.45,632.69 646.50,632.53 646.55,632.39 646.60,632.26 646.65,632.15 646.70,632.07 646.75,632.02 646.80,632.00 646.85,632.02 646.90,632.07 646.95,632.15 647.00,632.26 647.05,632.39 647.10,632.54 647.15,632.70 647.20,632.86 647.25,633.02 647.30,633.19 647.35,633.34 647.40,633.49 647.45,633.62 647.50,633.74 647.55,633.85 647.60,633.94 647.65,634.02 647.70,634.08 647.75,634.14 647.80,634.18 647.85,634.22 647.90,634.25 647.95,634.27 648.00,634.29 648.05,634.31 648.10,634.32 648.15,634.33 648.20,634.33 648.25,634.34 648.30,634.34 648.35,634.34 648.40,634.35 648.45,634.35 648.50,634.35 648.55,634.35 648.60,634.35 648.65,634.36 648.70,634.36 648.75,634.36 648.80,634.36 648.85,634.36 648.90,634.36 648.95,634.36 649.00,634.36 649.05,634.36 649.10,634.36 649.15,634.36 649.20,634.37 649.25,634.37 649.30,634.37 649.35,634.37 649.40,634.37 649.45,634.37 649.50,634.37 649.55,634.37 649.60,634.37 649.65,634.37 649.70,634.37 649.75,634.37 649.80,634.37 649.85,634.37 649.90,634.37 649.95,634.37 650.00,634.37 650.05,634.37 650.10,634.37 650.15,634.37 650.20,634.37 650.25,634.37 650.30,634.37 650.35,634.37 650.40,634.37 650.45,634.37 650.50,634.38 650.55,634.38 650.60,634.38 650.65,634.38 650.70,634.38 650.75,634.38 650.80,634.38 650.85,634.38 650.90,634.38 650.95,634.38 651.00,634.38 651.05,634.38 651.10,634.38 651.15,634.38 651.20,634.38 651.25,634.38 651.30,634.38 651.35,634.38 651.40,634.38 651.45,634.38 651.50,634.38 651.55,634.38 651.60,634.38 651.65,634.38 651.70,634.38 651.75,634.38 651.80,634.38 651.85,634.38 652.85,634.38 653.85,634.38 654.85,634.39 655.85,634.39 656.85,634.39 657.85,634.39 658.85,634.39 659.85,634.39 660.85,634.39 661.85,634.39 661.90,634.39 661.95,634.39 662.00,634.39 662.05,634.39 662.10,634.39 662.15,634.39 662.20,634.39 662.25,634.39 662.30,634.39 662.35,634.39 662.40,634.39 662.45,634.39 662.50,634.39 662.55,634.39 662.60,634.39 662.65,634.39 662.70,634.39 662.75,634.39 662.80,634.39 662.85,634.39 662.90,634.39 662.95,634.39 663.00,634.39 663.05,634.39 663.10,634.39 663.15,634.39 663.20,634.39 663.25,634.39 663.30,634.39 663.35,634.39 663.40,634.39 663.45,634.39 663.50,634.39 663.55,634.39 663.60,634.39 663.65,634.39 663.70,634.39 663.75,634.39 663.80,634.39 663.85,634.39 663.90,634.39 663.95,634.39 664.00,634.39 664.05,634.39 664.10,634.39 664.15,634.39 664.20,634.38 664.25,634.38 664.30,634.38 664.35,634.38 664.40,634.38 664.45,634.38 664.50,634.38 664.55,634.38 664.60,634.38 664.65,634.38 664.70,634.38 664.75,634.38 664.80,634.38 664.85,634.38 664.90,634.38 664.95,634.38 665.00,634.38 665.05,634.37 665.10,634.37 665.15,634.37 665.20,634.37 665.25,634.36 665.30,634.36 665.35,634.35 665.40,634.34 665.45,634.33 665.50,634.32 665.55,634.30 665.60,634.28 665.65,634.26 665.70,634.22 665.75,634.18 665.80,634.14 665.85,634.08 665.90,634.02 665.95,633.95 666.00,633.87 666.05,633.79 666.10,633.70 666.15,633.60 666.20,633.50 666.25,633.41 666.30,633.31 666.35,633.23 666.40,633.15 666.45,633.09 666.50,633.04 666.55,633.01 666.60,633.00 666.65,633.01 666.70,633.04 666.75,633.09 666.80,633.15 666.85,633.23 666.90,633.31 666.95,633.41 667.00,633.50 667.05,633.60 667.10,633.70 667.15,633.79 667.20,633.87 667.25,633.95 667.30,634.02 667.35,634.08 667.40,634.14 667.45,634.18 667.50,634.22 667.55,634.26 667.60,634.28 667.65,634.30 667.70,634.32 667.75,634.33 667.80,634.35 667.85,634.35 667.90,634.36 667.95,634.36 668.00,634.37 668.05,634.37 668.10,634.37 668.15,634.38 668.20,634.38 668.25,634.38 668.30,634.38 668.35,634.38 668.40,634.38 668.45,634.38 668.50,634.38 668.55,634.38 668.60,634.38 668.65,634.38 668.70,634.38 668.75,634.38 668.80,634.38 668.85,634.39 668.90,634.39 668.95,634.39 669.00,634.39 669.05,634.39 669.10,634.39 669.15,634.39 669.20,634.39 669.25,634.39 669.30,634.39 669.35,634.39 669.40,634.39 669.45,634.39 669.50,634.39 669.55,634.39 669.60,634.39 669.65,634.39 669.70,634.39 669.75,634.39 669.80,634.39 669.85,634.39 669.90,634.39 669.95,634.39 670.00,634.39 670.05,634.39 670.10,634.39 670.15,634.39 670.20,634.39 670.25,634.39 670.30,634.39 670.35,634.39 670.40,634.39 670.45,634.39 670.50,634.39 670.55,634.39 670.60,634.39 670.65,634.39 670.70,634.39 670.75,634.39 670.80,634.39 670.85,634.39 670.90,634.39 670.95,634.39 671.00,634.39 671.05,634.39 671.10,634.39 671.15,634.39 671.20,634.39 671.25,634.39 671.30,634.39 671.35,634.39 671.40,634.39 671.45,634.39 671.50,634.39 671.55,634.39 671.60,634.39 671.65,634.39 672.65,634.39 673.65,634.39 674.65,634.39 675.65,634.39 676.65,634.39 677.65,634.39 678.65,634.39 679.65,634.39 680.65,634.39 681.65,634.39 682.65,634.39 683.65,634.39 684.65,634.39 685.65,634.39 686.65,634.39 687.65,634.39 688.65,634.39 689.65,634.39 690.65,634.39 691.65,634.39 692.65,634.39 693.65,634.39 694.65,634.39 695.65,634.39 696.65,634.39 697.65,634.39 698.65,634.39 699.65,634.39 700.65,634.39 701.65,634.39 702.65,634.39 703.65,634.39 704.65,634.38 705.65,634.38 706.65,634.38 707.65,634.38 708.65,634.38 709.65,634.37 709.70,634.37 709.75,634.37 709.80,634.37 709.85,634.37 709.90,634.37 709.95,634.37 710.00,634.37 710.05,634.37 710.10,634.37 710.15,634.37 710.20,634.37 710.25,634.37 710.30,634.36 710.35,634.36 710.40,634.36 710.45,634.36 710.50,634.36 710.55,634.36 710.60,634.36 710.65,634.36 710.70,634.36 710.75,634.36 710.80,634.36 710.85,634.36 710.90,634.36 710.95,634.36 711.00,634.36 711.05,634.36 711.10,634.35 711.15,634.35 711.20,634.35 711.25,634.35 711.30,634.35 711.35,634.35 711.40,634.35 711.45,634.35 711.50,634.35 711.55,634.34 711.60,634.34 711.65,634.34 711.70,634.34 711.75,634.34 711.80,634.34 711.85,634.33 711.90,634.33 711.95,634.33 712.00,634.33 712.05,634.32 712.10,634.32 712.15,634.32 712.20,634.31 712.25,634.31 712.30,634.31 712.35,634.30 712.40,634.30 712.45,634.29 712.50,634.29 712.55,634.28 712.60,634.27 712.65,634.27 712.70,634.26 712.75,634.25 712.80,634.24 712.85,634.22 712.90,634.21 712.95,634.19 713.00,634.17 713.05,634.14 713.10,634.09 713.15,634.02 713.20,633.91 713.25,633.75 713.30,633.50 713.35,633.12 713.40,632.57 713.45,631.81 713.50,630.78 713.55,629.45 713.60,627.83 713.65,625.93 713.70,623.83 713.75,621.66 713.80,619.56 713.85,617.74 713.90,616.39 713.95,615.68 714.00,615.71 714.05,616.48 714.10,617.87 714.15,619.72 714.20,621.83 714.25,624.01 714.30,626.09 714.35,627.97 714.40,629.57 714.45,630.87 714.50,631.87 714.55,632.62 714.60,633.15 714.65,633.52 714.70,633.76 714.75,633.92 714.80,634.02 714.85,634.09 714.90,634.13 714.95,634.17 715.00,634.19 715.05,634.21 715.10,634.22 715.15,634.23 715.20,634.24 715.25,634.25 715.30,634.26 715.35,634.27 715.40,634.27 715.45,634.28 715.50,634.28 715.55,634.29 715.60,634.29 715.65,634.30 715.70,634.30 715.75,634.31 715.80,634.31 715.85,634.31 715.90,634.31 715.95,634.32 716.00,634.32 716.05,634.32 716.10,634.32 716.15,634.32 716.20,634.33 716.25,634.33 716.30,634.33 716.35,634.33 716.40,634.33 716.45,634.33 716.50,634.33 716.55,634.33 716.60,634.34 716.65,634.34 716.70,634.34 716.75,634.34 716.80,634.34 716.85,634.34 716.90,634.34 716.95,634.34 717.00,634.34 717.05,634.34 717.10,634.34 717.15,634.34 717.20,634.34 717.25,634.34 717.30,634.34 717.35,634.34 717.40,634.34 717.45,634.34 717.50,634.34 717.55,634.34 717.60,634.34 717.65,634.34 717.70,634.35 717.75,634.35 717.80,634.35 717.85,634.35 717.90,634.35 717.95,634.35 718.00,634.35 718.05,634.35 718.10,634.35 718.15,634.35 718.20,634.35 718.25,634.35 718.30,634.35 718.35,634.35 718.40,634.35 718.45,634.35 718.50,634.35 718.55,634.35 718.60,634.35 718.65,634.35 718.70,634.35 718.75,634.35 718.80,634.35 718.85,634.35 718.90,634.34 718.95,634.34 719.00,634.34 720.00,634.34 721.00,634.33 721.05,634.33 721.10,634.33 721.15,634.33 721.20,634.33 721.25,634.33 721.30,634.33 721.35,634.33 721.40,634.33 721.45,634.33 721.50,634.33 721.55,634.33 721.60,634.33 721.65,634.33 721.70,634.33 721.75,634.32 721.80,634.32 721.85,634.32 721.90,634.32 721.95,634.32 722.00,634.32 722.05,634.32 722.10,634.32 722.15,634.32 722.20,634.32 722.25,634.32 722.30,634.32 722.35,634.32 722.40,634.32 722.45,634.32 722.50,634.31 722.55,634.31 722.60,634.31 722.65,634.31 722.70,634.31 722.75,634.31 722.80,634.31 722.85,634.31 722.90,634.31 722.95,634.31 723.00,634.30 723.05,634.30 723.10,634.30 723.15,634.30 723.20,634.30 723.25,634.30 723.30,634.30 723.35,634.30 723.40,634.29 723.45,634.29 723.50,634.29 723.55,634.29 723.60,634.29 723.65,634.29 723.70,634.28 723.75,634.28 723.80,634.28 723.85,634.27 723.90,634.27 723.95,634.26 724.00,634.25 724.05,634.24 724.10,634.23 724.15,634.22 724.20,634.20 724.25,634.19 724.30,634.16 724.35,634.14 724.40,634.10 724.45,634.07 724.50,634.02 724.55,633.97 724.60,633.92 724.65,633.86 724.70,633.79 724.75,633.71 724.80,633.63 724.85,633.54 724.90,633.45 724.95,633.35 725.00,633.26 725.05,633.16 725.10,633.06 725.15,632.97 725.20,632.88 725.25,632.80 725.30,632.73 725.35,632.68 725.40,632.64 725.45,632.61 725.50,632.60 725.55,632.61 725.60,632.63 725.65,632.67 725.70,632.72 725.75,632.79 725.80,632.86 725.85,632.95 725.90,633.04 725.95,633.13 726.00,633.23 726.05,633.32 726.10,633.41 726.15,633.50 726.20,633.59 726.25,633.67 726.30,633.74 726.35,633.80 726.40,633.86 726.45,633.92 726.50,633.96 726.55,634.00 726.60,634.04 726.65,634.07 726.70,634.09 726.75,634.11 726.80,634.12 726.85,634.14 726.90,634.15 726.95,634.15 727.00,634.16 727.05,634.16 727.10,634.16 727.15,634.17 727.20,634.17 727.25,634.17 727.30,634.17 727.35,634.16 727.40,634.16 727.45,634.16 727.50,634.16 727.55,634.16 727.60,634.15 727.65,634.15 727.70,634.15 727.75,634.14 727.80,634.14 727.85,634.14 727.90,634.13 727.95,634.13 728.00,634.13 728.05,634.12 728.10,634.12 728.15,634.11 728.20,634.11 728.25,634.11 728.30,634.10 728.35,634.10 728.40,634.09 728.45,634.09 728.50,634.08 728.55,634.08 728.60,634.07 728.65,634.06 728.70,634.06 728.75,634.05 728.80,634.05 728.85,634.04 728.90,634.03 728.95,634.03 729.00,634.02 729.05,634.01 729.10,634.00 729.15,634.00 729.20,633.99 729.25,633.98 729.30,633.97 729.35,633.96 729.40,633.95 729.45,633.94 729.50,633.93 729.55,633.92 729.60,633.91 729.65,633.90 729.70,633.89 729.75,633.87 729.80,633.86 729.85,633.85 729.90,633.83 729.95,633.82 730.00,633.80 730.05,633.79 730.10,633.77 730.15,633.75 730.20,633.74 730.25,633.72 730.30,633.70 730.35,633.68 730.40,633.66 730.45,633.63 730.50,633.61 730.55,633.59 730.60,633.56 730.65,633.53 730.70,633.50 730.75,633.47 730.80,633.44 730.85,633.41 730.90,633.37 730.95,633.34 731.00,633.30 731.05,633.25 731.10,633.21 731.15,633.16 731.20,633.11 731.25,633.06 731.30,633.00 731.35,632.94 731.40,632.87 731.45,632.80 731.50,632.72 731.55,632.64 731.60,632.55 731.65,632.46 731.70,632.35 731.75,632.24 731.80,632.12 731.85,631.98 731.90,631.83 731.95,631.67 732.00,631.49 732.05,631.29 732.10,631.06 732.15,630.79 732.20,630.47 732.25,630.07 732.30,629.53 732.35,628.78 732.40,627.67 732.45,626.02 732.50,623.54 732.55,619.84 732.60,614.44 732.65,606.80 732.70,596.36 732.75,582.64 732.80,565.37 732.85,544.64 732.90,520.98 732.95,495.43 733.00,469.51 733.05,445.13 733.10,424.33 733.15,408.92 733.20,400.00 733.25,397.46 733.30,399.73 733.35,404.11 733.40,407.30 733.45,406.10 733.50,397.96 733.55,381.44 733.60,356.53 733.65,324.83 733.70,289.40 733.75,254.51 733.80,225.09 733.85,206.00 733.90,201.00 733.95,211.80 734.00,237.55 734.05,275.32 734.10,321.00 734.15,370.26 734.20,419.16 734.25,464.58 734.30,504.42 734.35,537.58 734.40,563.89 734.45,583.85 734.50,598.37 734.55,608.54 734.60,615.42 734.65,619.95 734.70,622.87 734.75,624.73 734.80,625.92 734.85,626.70 734.90,627.21 734.95,627.57 735.00,627.83 735.05,628.01 735.10,628.14 735.15,628.23 735.20,628.29 735.25,628.31 735.30,628.32 735.35,628.30 735.40,628.27 735.45,628.22 735.50,628.17 735.55,628.10 735.60,628.03 735.65,627.95 735.70,627.87 735.75,627.80 735.80,627.73 735.85,627.66 735.90,627.60 735.95,627.54 736.00,627.50 736.05,627.46 736.10,627.44 736.15,627.42 736.20,627.41 736.25,627.41 736.30,627.42 736.35,627.44 736.40,627.45 736.45,627.48 736.50,627.51 736.55,627.53 736.60,627.56 736.65,627.59 736.70,627.62 736.75,627.64 736.80,627.67 736.85,627.68 736.90,627.70 736.95,627.71 737.00,627.71 737.05,627.71 737.10,627.70 737.15,627.69 737.20,627.67 737.25,627.65 737.30,627.62 737.35,627.59 737.40,627.56 737.45,627.52 737.50,627.48 737.55,627.43 737.60,627.39 737.65,627.34 737.70,627.29 737.75,627.24 737.80,627.20 737.85,627.15 737.90,627.11 737.95,627.06 738.00,627.02 738.05,626.98 738.10,626.95 738.15,626.91 738.20,626.89 738.25,626.86 738.30,626.84 738.35,626.82 738.40,626.81 738.45,626.80 738.50,626.79 738.55,626.80 738.60,626.80 738.65,626.81 738.70,626.82 738.75,626.84 738.80,626.87 738.85,626.89 738.90,626.93 738.95,626.97 739.00,627.01 739.05,627.05 739.10,627.11 739.15,627.16 739.20,627.22 739.25,627.28 739.30,627.35 739.35,627.42 739.40,627.50 739.45,627.58 739.50,627.66 739.55,627.74 739.60,627.83 739.65,627.92 739.70,628.01 739.75,628.11 739.80,628.21 739.85,628.31 739.90,628.41 739.95,628.51 740.00,628.62 740.05,628.72 740.10,628.83 740.15,628.94 740.20,629.05 740.25,629.16 740.30,629.28 740.35,629.39 740.40,629.50 740.45,629.61 740.50,629.73 740.55,629.84 740.60,629.95 740.65,630.06 740.70,630.18 740.75,630.29 740.80,630.40 740.85,630.51 740.90,630.62 740.95,630.72 741.00,630.83 741.05,630.94 741.10,631.04 741.15,631.14 741.20,631.24 741.25,631.34 741.30,631.44 741.35,631.54 741.40,631.63 741.45,631.72 741.50,631.81 741.55,631.90 741.60,631.99 741.65,632.07 741.70,632.16 741.75,632.24 741.80,632.31 741.85,632.39 741.90,632.47 741.95,632.54 742.00,632.61 742.05,632.68 742.10,632.74 742.15,632.81 742.20,632.87 742.25,632.93 742.30,632.99 742.35,633.05 742.40,633.10 742.45,633.16 742.50,633.21 742.55,633.26 742.60,633.30 742.65,633.35 742.70,633.39 742.75,633.43 742.80,633.47 742.85,633.51 742.90,633.55 742.95,633.59 743.00,633.62 743.05,633.65 743.10,633.68 743.15,633.71 743.20,633.74 743.25,633.77 743.30,633.80 743.35,633.82 743.40,633.85 743.45,633.87 743.50,633.89 743.55,633.91 743.60,633.93 743.65,633.95 744.65,634.18 745.65,634.26 746.65,634.29 747.65,634.31 748.65,634.32 749.65,634.33 750.65,634.34 751.65,634.35 752.65,634.36 753.65,634.36 754.65,634.37 755.65,634.37 756.65,634.37 757.65,634.37 758.65,634.38 759.65,634.38 760.65,634.38 761.65,634.38 762.65,634.38 763.65,634.38 764.65,634.39 765.65,634.39 766.65,634.39 767.65,634.39 768.65,634.39 769.65,634.39 770.65,634.39 771.65,634.39 772.65,634.39 773.65,634.39 774.65,634.39 775.65,634.39 776.65,634.39 777.65,634.39 778.65,634.39 779.65,634.39 780.65,634.39 781.65,634.39 782.65,634.39 783.65,634.39 784.65,634.39 785.65,634.39 786.65,634.39 787.65,634.40 788.65,634.40 789.65,634.40 790.65,634.40 791.65,634.40 792.65,634.40 793.65,634.40 794.65,634.40 795.65,634.40 796.65,634.40 797.65,634.40 798.65,634.40 799.65,634.40 800.65,634.40 801.65,634.40 802.65,634.40 803.65,634.40 804.65,634.40 805.65,634.40 806.65,634.40 807.65,634.40 808.65,634.40 809.65,634.40 810.65,634.40 811.65,634.40 812.65,634.40 813.65,634.40 814.65,634.40 815.65,634.40 816.65,634.40 817.65,634.40 818.65,634.40 819.65,634.40 820.65,634.40 821.65,634.40 822.65,634.40 823.65,634.39 824.65,634.39 825.65,634.39 826.65,634.39 827.65,634.39 827.70,634.39 827.75,634.39 827.80,634.39 827.85,634.39 827.90,634.39 827.95,634.38 828.00,634.38 828.05,634.38 828.10,634.38 828.15,634.38 828.20,634.38 828.25,634.38 828.30,634.38 828.35,634.38 828.40,634.38 828.45,634.38 828.50,634.38 828.55,634.38 828.60,634.38 828.65,634.38 828.70,634.38 828.75,634.38 828.80,634.38 828.85,634.38 828.90,634.38 828.95,634.37 829.00,634.37 829.05,634.37 829.10,634.37 829.15,634.37 829.20,634.37 829.25,634.37 829.30,634.37 829.35,634.37 829.40,634.37 829.45,634.36 829.50,634.36 829.55,634.36 829.60,634.36 829.65,634.36 829.70,634.36 829.75,634.36 829.80,634.35 829.85,634.35 829.90,634.35 829.95,634.35 830.00,634.35 830.05,634.34 830.10,634.34 830.15,634.34 830.20,634.33 830.25,634.33 830.30,634.33 830.35,634.32 830.40,634.32 830.45,634.31 830.50,634.31 830.55,634.30 830.60,634.30 830.65,634.29 830.70,634.28 830.75,634.27 830.80,634.26 830.85,634.25 830.90,634.24 830.95,634.22 831.00,634.21 831.05,634.19 831.10,634.16 831.15,634.12 831.20,634.07 831.25,633.99 831.30,633.87 831.35,633.68 831.40,633.39 831.45,632.96 831.50,632.34 831.55,631.46 831.60,630.28 831.65,628.77 831.70,626.90 831.75,624.72 831.80,622.31 831.85,619.81 831.90,617.40 831.95,615.29 832.00,613.73 832.05,612.90 832.10,612.92 832.15,613.79 832.20,615.38 832.25,617.51 832.30,619.93 832.35,622.43 832.40,624.84 832.45,627.00 832.50,628.85 832.55,630.35 832.60,631.51 832.65,632.37 832.70,632.99 832.75,633.41 832.80,633.69 832.85,633.88 832.90,634.00 832.95,634.08 833.00,634.13 833.05,634.16 833.10,634.19 833.15,634.21 833.20,634.23 833.25,634.24 833.30,634.25 833.35,634.26 833.40,634.27 833.45,634.28 833.50,634.29 833.55,634.30 833.60,634.30 833.65,634.31 833.70,634.31 833.75,634.32 833.80,634.32 833.85,634.33 833.90,634.33 833.95,634.33 834.00,634.34 834.05,634.34 834.10,634.34 834.15,634.35 834.20,634.35 834.25,634.35 834.30,634.35 834.35,634.35 834.40,634.36 834.45,634.36 834.50,634.36 834.55,634.36 834.60,634.36 834.65,634.36 834.70,634.37 834.75,634.37 834.80,634.37 834.85,634.37 834.90,634.37 834.95,634.37 835.00,634.37 835.05,634.37 835.10,634.37 835.15,634.37 835.20,634.37 835.25,634.38 835.30,634.38 835.35,634.38 835.40,634.38 835.45,634.38 835.50,634.38 835.55,634.38 835.60,634.38 835.65,634.38 835.70,634.38 835.75,634.38 835.80,634.38 835.85,634.38 835.90,634.38 835.95,634.38 836.00,634.38 836.05,634.38 836.10,634.38 836.15,634.38 836.20,634.38 836.25,634.39 836.30,634.39 836.35,634.39 836.40,634.39 836.45,634.39 836.50,634.39 836.55,634.39 836.60,634.39 836.65,634.39 836.70,634.39 836.75,634.39 836.80,634.39 836.85,634.39 836.90,634.39 836.95,634.39 837.00,634.39 837.05,634.39 837.10,634.39 838.10,634.39 839.10,634.39 840.10,634.40 841.10,634.40 842.10,634.40 843.10,634.40 844.10,634.40 845.10,634.40 846.10,634.40 847.10,634.40 848.10,634.40 849.10,634.40 850.10,634.40 851.10,634.40 852.10,634.40 853.10,634.40 854.10,634.40 855.10,634.40 856.10,634.40 857.10,634.40 858.10,634.40 859.10,634.40 860.10,634.40 861.10,634.40 862.10,634.40 863.10,634.40 864.10,634.40 865.10,634.40 866.10,634.40 867.10,634.40 868.10,634.40 869.10,634.40 870.10,634.40" fill="none" stroke="#6e6e6e" stroke-width="0.85"/>
<g stroke="#3a3a9a" stroke-width="1.2" fill="none"><path d="M82.4,664.2 L871.1,664.2"/><path d="M870.74,664.2V666.9 M863.23,664.2V666.9 M855.72,664.2V666.9 M848.22,664.2V666.9 M840.71,664.2V666.9 M833.20,664.2V672.6 M825.69,664.2V666.9 M818.18,664.2V666.9 M810.68,664.2V666.9 M803.17,664.2V666.9 M795.66,664.2V666.9 M788.15,664.2V666.9 M780.64,664.2V666.9 M773.14,664.2V666.9 M765.63,664.2V666.9 M758.12,664.2V672.6 M750.61,664.2V666.9 M743.10,664.2V666.9 M735.60,664.2V666.9 M728.09,664.2V666.9 M720.58,664.2V666.9 M713.07,664.2V666.9 M705.56,664.2V666.9 M698.06,664.2V666.9 M690.55,664.2V666.9 M683.04,664.2V672.6 M675.53,664.2V666.9 M668.02,664.2V666.9 M660.52,664.2V666.9 M653.01,664.2V666.9 M645.50,664.2V666.9 M637.99,664.2V666.9 M630.48,664.2V666.9 M622.98,664.2V666.9 M615.47,664.2V666.9 M607.96,664.2V672.6 M600.45,664.2V666.9 M592.94,664.2V666.9 M585.44,664.2V666.9 M577.93,664.2V666.9 M570.42,664.2V666.9 M562.91,664.2V666.9 M555.40,664.2V666.9 M547.90,664.2V666.9 M540.39,664.2V666.9 M532.88,664.2V672.6 M525.37,664.2V666.9 M517.86,664.2V666.9 M510.36,664.2V666.9 M502.85,664.2V666.9 M495.34,664.2V666.9 M487.83,664.2V666.9 M480.32,664.2V666.9 M472.82,664.2V666.9 M465.31,664.2V666.9 M457.80,664.2V672.6 M450.29,664.2V666.9 M442.78,664.2V666.9 M435.28,664.2V666.9 M427.77,664.2V666.9 M420.26,664.2V666.9 M412.75,664.2V666.9 M405.24,664.2V666.9 M397.74,664.2V666.9 M390.23,664.2V666.9 M382.72,664.2V672.6 M375.21,664.2V666.9 M367.70,664.2V666.9 M360.20,664.2V666.9 M352.69,664.2V666.9 M345.18,664.2V666.9 M337.67,664.2V666.9 M330.16,664.2V666.9 M322.66,664.2V666.9 M315.15,664.2V666.9 M307.64,664.2V672.6 M300.13,664.2V666.9 M292.62,664.2V666.9 M285.12,664.2V666.9 M277.61,664.2V666.9 M270.10,664.2V666.9 M262.59,664.2V666.9 M255.08,664.2V666.9 M247.58,664.2V666.9 M240.07,664.2V666.9 M232.56,664.2V672.6 M225.05,664.2V666.9 M217.54,664.2V666.9 M210.04,664.2V666.9 M202.53,664.2V666.9 M195.02,664.2V666.9 M187.51,664.2V666.9 M180.00,664.2V666.9 M172.50,664.2V666.9 M164.99,664.2V666.9 M157.48,664.2V672.6 M149.97,664.2V666.9 M142.46,664.2V666.9 M134.96,664.2V666.9 M127.45,664.2V666.9 M119.94,664.2V666.9 M112.43,664.2V666.9 M104.92,664.2V666.9 M97.42,664.2V666.9 M89.91,664.2V666.9 M82.40,664.2V672.6"/></g>
<g font-family="Liberation Sans" font-weight="bold" font-size="16.5" fill="#1010c0" stroke="#1010c0" stroke-width="0.35"><text x="758.12" y="691" text-anchor="middle">1</text><text x="683.04" y="691" text-anchor="middle">2</text><text x="607.96" y="691" text-anchor="middle">3</text><text x="532.88" y="691" text-anchor="middle">4</text><text x="457.80" y="691" text-anchor="middle">5</text><text x="382.72" y="691" text-anchor="middle">6</text><text x="307.64" y="691" text-anchor="middle">7</text><text x="232.56" y="691" text-anchor="middle">8</text><text x="157.48" y="691" text-anchor="middle">9</text><text x="853.3" y="691.5" text-anchor="middle">ppm</text></g>
<g fill="none" stroke="#c03030" stroke-width="1"><path d="M351.20,700.8 L351.20,708.0 L345.40,717.8 L345.40,753.4"/><path d="M357.10,700.8 L357.10,708.0 L362.60,717.8 L362.60,753.4"/><path d="M439.10,700.8 L439.10,708.0 L428.50,717.8 L428.50,753.4"/><path d="M443.80,700.8 L443.80,708.0 L445.00,717.8 L445.00,753.4"/><path d="M446.20,700.8 L446.20,708.0 L445.00,717.8 L445.00,753.4"/><path d="M451.50,700.8 L451.50,708.0 L462.00,717.8 L462.00,753.4"/><path d="M623.60,700.8 L623.60,708.0 L617.40,717.8 L617.40,753.4"/><path d="M629.60,700.8 L629.60,708.0 L634.00,717.8 L634.00,753.4"/><path d="M634.30,700.8 L634.30,708.0 L634.30,717.8 L634.30,753.4"/><path d="M649.40,700.8 L649.40,708.0 L651.40,717.8 L651.40,753.4"/><path d="M731.50,700.8 L731.50,708.0 L718.40,717.8 L718.40,753.4"/><path d="M735.50,700.8 L735.50,708.0 L735.50,717.8 L735.50,753.4"/><path d="M735.50,700.8 L735.50,708.0 L735.50,717.8 L735.50,753.4"/><path d="M738.90,700.8 L738.90,708.0 L752.40,717.8 L752.40,753.4"/></g>
<g font-family="Liberation Sans" font-weight="bold" font-size="13.5" fill="#d00000" stroke="#d00000" stroke-width="0.25"><text transform="translate(359.30,753.5) rotate(-90)">0.944</text><text transform="translate(442.05,753.5) rotate(-90)">0.991</text><text transform="translate(458.80,753.5) rotate(-90)">0.994</text><text transform="translate(631.00,753.5) rotate(-90)">2.000</text><text transform="translate(648.15,753.5) rotate(-90)">0.174</text><text transform="translate(732.25,753.5) rotate(-90)">3.059</text><text transform="translate(749.25,753.5) rotate(-90)">0.261</text></g>
<g fill="none" stroke="#7cc243" stroke-width="3.3" stroke-linejoin="round">
<path d="M506.10,368.80 L493.45,390.71 L468.15,390.71 L455.50,368.80 L468.15,346.89 L493.45,346.89 Z"/>
<path d="M473.2,353 L488.2,353 M464.1,372.2 L471,384.6 M497.5,372.2 L490.6,384.6" stroke-width="3.3" stroke-linecap="round"/>
</g>
<g fill="#000">
<path d="M512,352.6 L518.4,352.6 L527.2,371.3 L536.3,352.6 L543.1,352.6 L543.1,393.9 L537.9,393.9 L537.9,362.2 L529.2,378.9 L525.2,378.9 L516.8,362.2 L516.8,393.9 L512,393.9 Z"/>
<path fill-rule="evenodd" d="M546.7,365.9 H567.1 V393.9 H546.7 Z M551.5,368.3 V391.2 H562.3 V368.3 Z"/>
<path d="M570.3,352.3 H575.5 V393.9 H570.3 Z"/>
<path fill-rule="evenodd" d="M579,353 H599.1 V370.6 L597,373 L599.1,375.3 V393.7 H579 Z M584,354.9 V372 H594.7 V354.9 Z M584,374.4 V391.6 H594.7 V374.4 Z"/>
<rect x="602.2" y="365.8" width="4.9" height="27.9"/><rect x="602.2" y="365.8" width="20.6" height="2.4"/><rect x="617.9" y="365.8" width="4.9" height="17.1"/><rect x="602.2" y="380.3" width="20.6" height="2.6"/><rect x="602.2" y="391.1" width="20.6" height="2.6"/><rect x="625.0" y="365.8" width="37.0" height="2.7"/><rect x="625.0" y="365.8" width="4.6" height="14.8"/><rect x="625.0" y="378.0" width="19.6" height="2.6"/><rect x="639.7" y="378.0" width="4.9" height="15.7"/><rect x="625.0" y="391.1" width="19.6" height="2.6"/><rect x="651.2" y="354.1" width="4.9" height="39.6"/><rect x="651.2" y="391.1" width="10.8" height="2.6"/>
</g>
<text x="447.9" y="425.7" font-family="Liberation Sans" font-size="13.26" fill="#858585">molBest.com,180K+ Chemical Reagents In Stock.</text>
<g fill="#2d4fae"><path fill-rule="evenodd" transform="translate(1008.90,129.90) rotate(34.00)" d="M-66.50,0.00 A66.50,22.10 0 1,0 66.50,0.00 A66.50,22.10 0 1,0 -66.50,0.00 Z M-63.50,-0.90 A63.50,19.10 0 1,0 63.50,-0.90 A63.50,19.10 0 1,0 -63.50,-0.90 Z"/><path fill-rule="evenodd" transform="translate(1008.90,129.90) rotate(-34.00)" d="M-66.50,0.00 A66.50,22.10 0 1,0 66.50,0.00 A66.50,22.10 0 1,0 -66.50,0.00 Z M-63.50,0.90 A63.50,19.10 0 1,0 63.50,0.90 A63.50,19.10 0 1,0 -63.50,0.90 Z"/></g>
<g fill="#2d4fae"><circle cx="981.6" cy="90.8" r="4.7"/><circle cx="981.6" cy="168.4" r="4.7"/></g>
<rect x="922" y="117.6" width="172" height="24.2" fill="#fff"/>
<text x="0" y="0" transform="translate(925.9,138.9) scale(1.27,1)" font-family="Liberation Sans" font-weight="bold" font-size="26.0" fill="#000" stroke="#000" stroke-width="2.9" stroke-linejoin="miter" letter-spacing="3.5">BRUKER</text>

<g font-family="Liberation Mono" font-size="11.2" fill="#3c3c3c" stroke="#fff" stroke-width="0.1"><text x="931.6" y="220.10" xml:space="preserve">Current Data Parameters</text><text x="931.6" y="231.25" xml:space="preserve">NAME     627-50-9P3276061-CDCL3</text><text x="931.6" y="242.40" xml:space="preserve">EXPNO                 1</text><text x="931.6" y="253.55" xml:space="preserve">PROCNO                1</text><text x="931.6" y="275.85" xml:space="preserve">F2 - Acquisition Parameters</text><text x="931.6" y="287.00" xml:space="preserve">Date_          20241105</text><text x="931.6" y="298.15" xml:space="preserve">Time              12.22 h</text><text x="931.6" y="309.30" xml:space="preserve">INSTRUM          Avance</text><text x="931.6" y="320.45" xml:space="preserve">PROBHD   Z154705_0134 (</text><text x="931.6" y="331.60" xml:space="preserve">PULPROG            zg30</text><text x="931.6" y="342.75" xml:space="preserve">TD                65536</text><text x="931.6" y="353.90" xml:space="preserve">SOLVENT           CDCl3</text><text x="931.6" y="365.05" xml:space="preserve">NS                    4</text><text x="931.6" y="376.20" xml:space="preserve">DS                    0</text><text x="931.6" y="387.35" xml:space="preserve">SWH           11904.762 Hz</text><text x="931.6" y="398.50" xml:space="preserve">FIDRES         0.363304 Hz</text><text x="931.6" y="409.65" xml:space="preserve">AQ            2.7525120 sec</text><text x="931.6" y="420.80" xml:space="preserve">RG                   64</text><text x="931.6" y="431.95" xml:space="preserve">DW               42.000 usec</text><text x="931.6" y="443.10" xml:space="preserve">DE                 8.79 usec</text><text x="931.6" y="454.25" xml:space="preserve">TE                296.3 K</text><text x="931.6" y="465.40" xml:space="preserve">D1           1.00000000 sec</text><text x="931.6" y="476.55" xml:space="preserve">TD0                   1</text><text x="931.6" y="487.70" xml:space="preserve">SFO1        600.1537059 MHz</text><text x="931.6" y="498.85" xml:space="preserve">NUC1                 1H</text><text x="931.6" y="510.00" xml:space="preserve">P0                 3.33 usec</text><text x="931.6" y="521.15" xml:space="preserve">P1                10.00 usec</text><text x="931.6" y="532.30" xml:space="preserve">PLW1        21.87999916 W</text><text x="931.6" y="554.60" xml:space="preserve">F2 - Processing parameters</text><text x="931.6" y="565.75" xml:space="preserve">SI                65536</text><text x="931.6" y="576.90" xml:space="preserve">SF          600.1500019 MHz</text><text x="931.6" y="588.05" xml:space="preserve">WDW                  EM</text><text x="931.6" y="599.20" xml:space="preserve">SSB                   0</text><text x="931.6" y="610.35" xml:space="preserve">LB                 0.30 Hz</text><text x="931.6" y="621.50" xml:space="preserve">GB                    0</text><text x="931.6" y="632.65" xml:space="preserve">PC                 1.00</text></g>
</svg>
</body></html>
